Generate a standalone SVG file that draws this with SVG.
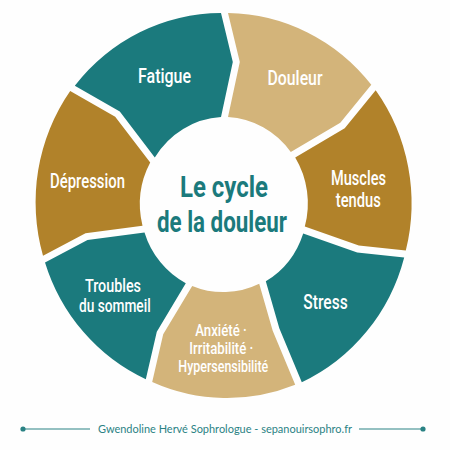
<svg xmlns="http://www.w3.org/2000/svg" width="450" height="450" viewBox="0 0 450 450">
<style>
.teal{fill:#1b7a7d}
.tan{fill:#d3b47a}
.brown{fill:#b1822a}
.lbl{font-family:Roboto,"Liberation Sans",sans-serif;font-weight:500;fill:#ffffff;text-anchor:middle}
.title{font-family:Roboto,"Liberation Sans",sans-serif;font-weight:700;fill:#1b7a7c;text-anchor:middle;font-size:30px}
.foot{font-family:Lato,"Open Sans",sans-serif;font-weight:400;fill:#2a8284;text-anchor:middle;font-size:11.5px}
.rule{stroke:#2a8284;stroke-width:1.2;fill:none}
.dot{fill:#2a8284}
</style>
<rect width="450" height="450" fill="#fefefe"/>
<g id="connectors"/>
<g id="fatigue">
<path class="teal" d="M74.8,85.7 A187,192 0 0 1 221,13 L232.8,62 L221,117 A84,87 0 0 0 154.8,157.4 L119.8,111.6 Z"/>
<text class="lbl" x="164.5" y="83" font-size="21" textLength="53" lengthAdjust="spacingAndGlyphs">Fatigue</text>
</g>
<g id="douleur">
<path class="tan" d="M228,13 A187,192 0 0 1 371.3,84.8 L340.3,122.8 L290.8,152 A84,87 0 0 0 228,117 L239.8,62 Z"/>
<text class="lbl" x="295" y="85" font-size="21" textLength="55" lengthAdjust="spacingAndGlyphs">Douleur</text>
</g>
<g id="muscles">
<path class="brown" d="M375.7,90.2 A187,192 0 0 1 405.8,250.6 L358.8,245.6 L304.8,226.6 A84,87 0 0 0 295.2,157.4 L344.7,128.2 Z"/>
<text class="lbl" x="358.5" y="185" font-size="20" textLength="55" lengthAdjust="spacingAndGlyphs">Muscles</text>
<text class="lbl" x="358.3" y="206.7" font-size="20" textLength="45" lengthAdjust="spacingAndGlyphs">tendus</text>
</g>
<g id="stress">
<path class="teal" d="M404.2,257.4 A187,192 0 0 1 301.8,382.3 L279.3,328.3 L265.8,281.3 A84,87 0 0 0 303.2,233.4 L357.2,252.4 Z"/>
<text class="lbl" x="325.5" y="309" font-size="20.5" textLength="44.3" lengthAdjust="spacingAndGlyphs">Stress</text>
</g>
<g id="anxiete">
<path class="tan" d="M295.2,384.7 A187,192 0 0 1 152.2,381.9 L163.2,334.3 L192.2,285.9 A84,87 0 0 0 259.2,283.7 L272.7,330.7 Z"/>
<text class="lbl" x="221" y="336" font-size="16.4" textLength="51.7" lengthAdjust="spacingAndGlyphs">Anxiété ·</text>
<text class="lbl" x="221.3" y="354" font-size="16.4" textLength="64" lengthAdjust="spacingAndGlyphs">Irritabilité ·</text>
<text class="lbl" x="223.3" y="372" font-size="16.4" textLength="90" lengthAdjust="spacingAndGlyphs">Hypersensibilité</text>
</g>
<g id="troubles">
<path class="teal" d="M145.8,379.2 A187,192 0 0 1 45,262.4 L87.5,239.9 L144.5,232.4 A84,87 0 0 0 185.8,283.2 L156.8,331.7 Z"/>
<text class="lbl" x="113" y="291.7" font-size="18.3" textLength="56" lengthAdjust="spacingAndGlyphs">Troubles</text>
<text class="lbl" x="114.8" y="311.7" font-size="18.3" textLength="71.7" lengthAdjust="spacingAndGlyphs">du sommeil</text>
</g>
<g id="depression">
<path class="brown" d="M43,255.7 A187,192 0 0 1 70.2,90.9 L115.2,116.8 L150.2,162.6 A84,87 0 0 0 142.5,225.7 L85.5,233.2 Z"/>
<text class="lbl" x="87.5" y="188.3" font-size="20" textLength="75" lengthAdjust="spacingAndGlyphs">Dépression</text>
</g>
<g id="centre">
<text class="title" x="224" y="196.7" textLength="88" lengthAdjust="spacingAndGlyphs">Le cycle</text>
<text class="title" x="222" y="231.7" textLength="130" lengthAdjust="spacingAndGlyphs">de la douleur</text>
</g>
<g id="footer">
<line class="rule" x1="23" y1="429" x2="90" y2="429"/>
<circle class="dot" cx="23" cy="429" r="2.6"/>
<line class="rule" x1="359" y1="429" x2="423" y2="429"/>
<circle class="dot" cx="423" cy="429" r="2.6"/>
<text class="foot" x="225" y="432.7" textLength="254" lengthAdjust="spacingAndGlyphs">Gwendoline Hervé Sophrologue - sepanouirsophro.fr</text>
</g>
</svg>
